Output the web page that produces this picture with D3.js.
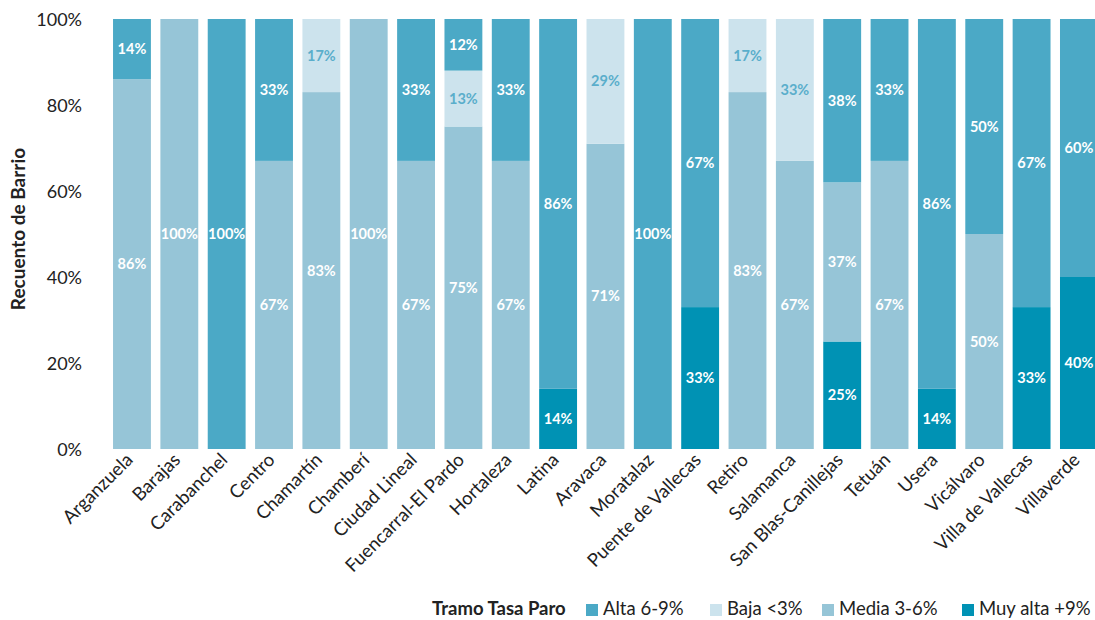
<!DOCTYPE html>
<html>
<head>
<meta charset="utf-8">
<script src="https://cdn.jsdelivr.net/npm/d3@7"></script>
<style>
  body { margin: 0; background: #fff; }
  svg { font-family: Lato, "Open Sans", sans-serif; }
</style>
</head>
<body>
<svg id="chart" width="1095" height="620"></svg>
<script>
// distritos
const categories = ["Arganzuela", "Barajas", "Carabanchel", "Centro", "Chamartín", "Chamberí",
    "Ciudad Lineal", "Fuencarral-El Pardo", "Hortaleza", "Latina", "Aravaca", "Moratalaz",
    "Puente de Vallecas", "Retiro", "Salamanca", "San Blas-Canillejas", "Tetuán", "Usera",
    "Vicálvaro", "Villa de Vallecas", "Villaverde"];

// % de barrios por tramo
const muyAlta = [0, 0, 0, 0, 0, 0, 0, 0, 0, 14, 0, 0, 33, 0, 0, 25, 0, 14, 0, 33, 40];
const media   = [86, 100, 0, 67, 83, 100, 67, 75, 67, 0, 71, 0, 0, 83, 67, 37, 67, 0, 50, 0, 0];
const baja    = [0, 0, 0, 0, 17, 0, 0, 13, 0, 0, 29, 0, 0, 17, 33, 0, 0, 0, 0, 0, 0];
const alta    = [14, 0, 100, 33, 0, 0, 33, 12, 33, 86, 0, 100, 67, 0, 0, 38, 33, 86, 50, 67, 60];

const yTicks = [0, 20, 40, 60, 80, 100];

// orden de apilado (abajo -> arriba)
const stackKeys = ["muyAlta", "media", "baja", "alta"];
const legendKeys = ["alta", "baja", "media", "muyAlta"];
const names = {alta: "Alta 6-9%", baja: "Baja <3%", media: "Media 3-6%", muyAlta: "Muy alta +9%"};
const colors = {alta: "#4ba9c6", baja: "#cce3ed", media: "#96c5d7", muyAlta: "#0092b4"};
const labelColors = {alta: "#fff", baja: "#5aaecb", media: "#fff", muyAlta: "#fff"};

const rows = categories.map(function (c, i) {
    return {cat: c, muyAlta: muyAlta[i], media: media[i], baja: baja[i], alta: alta[i]};
});

const svg = d3.select("#chart");

const x = d3.scaleBand()
    .domain(categories)
    .range([108.3, 1102.6])
    .paddingInner(0.2)
    .paddingOuter(0.1);

const y = d3.scaleLinear()
    .domain([0, 100])
    .range([449, 19]);

const layers = d3.stack().keys(stackKeys)(rows);

// y axis
const yAxis = svg.append("g")
    .attr("transform", "translate(82,0)")
    .call(d3.axisLeft(y).tickValues(yTicks).tickSize(0).tickPadding(0)
        .tickFormat(function (d) { return d + "%"; }));
yAxis.select(".domain").remove();
yAxis.selectAll("text")
    .attr("font-family", "Lato")
    .attr("font-size", 18)
    .attr("fill", "#222")
    .attr("dy", "0.38em");

svg.append("text")
    .attr("transform", "translate(25,229) rotate(-90)")
    .attr("text-anchor", "middle")
    .attr("font-size", 19)
    .attr("font-weight", "bold")
    .attr("fill", "#222")
    .text("Recuento de Barrio");

// bars
const group = svg.selectAll("g.layer")
    .data(layers)
    .enter()
    .append("g")
    .attr("class", "layer")
    .attr("fill", function (d) { return colors[d.key]; });

group.selectAll("rect")
    .data(function (d) { return d.filter(function (s) { return s[1] > s[0]; }); })
    .enter()
    .append("rect")
    .attr("x", function (d) { return x(d.data.cat); })
    .attr("y", function (d) { return y(d[1]); })
    .attr("width", x.bandwidth())
    .attr("height", function (d) { return y(d[0]) - y(d[1]); });

// segment labels
layers.forEach(function (layer) {
    svg.append("g")
        .selectAll("text")
        .data(layer.filter(function (s) { return s[1] > s[0]; }))
        .enter()
        .append("text")
        .attr("x", function (d) { return x(d.data.cat) + x.bandwidth() / 2; })
        .attr("y", function (d) { return y((d[0] + d[1]) / 2); })
        .attr("dy", "0.35em")
        .attr("text-anchor", "middle")
        .attr("font-size", 14.5)
        .attr("font-weight", "bold")
        .attr("fill", labelColors[layer.key])
        .text(function (d) { return Math.round(d[1] - d[0]) + "%"; });
});

// x axis labels
svg.append("g")
    .selectAll("text")
    .data(categories)
    .enter()
    .append("text")
    .attr("transform", function (d) {
        return "translate(" + (x(d) + x.bandwidth() / 2 + 2) + ",461) rotate(-45)";
    })
    .attr("text-anchor", "end")
    .attr("font-size", 18.5)
    .attr("fill", "#222")
    .text(function (d) { return d; });

// legend
const legend = svg.append("g").attr("transform", "translate(0,609)");
legend.append("text")
    .attr("x", 432)
    .attr("dy", "0.35em")
    .attr("font-size", 18.5)
    .attr("font-weight", "bold")
    .attr("fill", "#222")
    .text("Tramo Tasa Paro");

const legendX = [586, 710, 822, 962];
const item = legend.selectAll("g.item")
    .data(legendKeys)
    .enter()
    .append("g")
    .attr("class", "item")
    .attr("transform", function (d, i) { return "translate(" + legendX[i] + ",0)"; });
item.append("rect")
    .attr("x", 0)
    .attr("y", -5)
    .attr("width", 12)
    .attr("height", 12)
    .attr("fill", function (d) { return colors[d]; });
item.append("text")
    .attr("x", 17)
    .attr("dy", "0.35em")
    .attr("font-size", 18.5)
    .attr("fill", "#222")
    .text(function (d) { return names[d]; });
</script>
</body>
</html>
